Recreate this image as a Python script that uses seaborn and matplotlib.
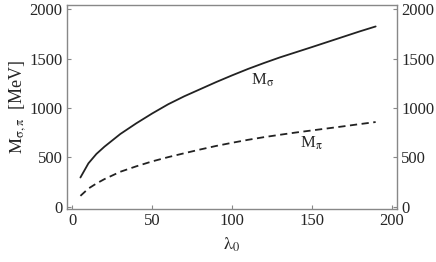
import pandas as pd
import seaborn as sns
import matplotlib.pyplot as plt

# values
lam = [5, 10, 15, 20, 30, 40, 50, 60, 70, 80, 90, 100, 110, 120, 130,
       140, 150, 160, 170, 180, 190]
m_sigma = [297, 440, 535, 608, 737, 845, 945, 1038, 1118, 1190, 1262, 1330,
           1395, 1455, 1512, 1564, 1616, 1669, 1722, 1775, 1825]
m_pi = [111, 185, 236, 280, 355, 410, 460, 503, 542, 580, 616, 648,
        678, 705, 729, 752, 773, 794, 815, 837, 858]

df = pd.DataFrame({"lam": lam, "sigma": m_sigma, "pi": m_pi})

sns.set_style("white")
plt.rcParams["font.family"] = ["Liberation Serif", "DejaVu Serif"]
plt.rcParams["mathtext.fontset"] = "stix"

fig = plt.figure(figsize=(4.36, 2.62), dpi=100)
ax = fig.add_axes([0.153, 0.203, 0.758, 0.779])

sns.lineplot(data=df, x="lam", y="sigma", ax=ax, color="#222222", lw=1.3)
sns.lineplot(data=df, x="lam", y="pi", ax=ax, color="#222222", lw=1.3,
             linestyle=(0, (4, 2.5)))

ax.set_xlim(-3.6, 203.5)
ax.set_ylim(-20, 2045)
ax.set_xticks([0, 50, 100, 150, 200])
ax.set_yticks([0, 500, 1000, 1500, 2000])

for s in ax.spines.values():
    s.set_color("#888888")
    s.set_linewidth(1.0)

ax.tick_params(direction="in", length=3, color="#888888", labelsize=12,
               left=True, bottom=True, pad=3)

ax2 = ax.twinx()
ax2.set_ylim(ax.get_ylim())
ax2.set_yticks([0, 500, 1000, 1500, 2000])
ax2.tick_params(direction="in", length=3, color="#888888", labelsize=12, pad=3)
for s in ax2.spines.values():
    s.set_visible(False)

ax.set_xlabel(r"$\mathrm{\lambda_0}$", fontsize=13, labelpad=5)
ax.set_ylabel(r"$\mathrm{M_{\sigma,\pi}}$  [MeV]", fontsize=13, labelpad=1)

ax.text(119, 1280, r"M$_\mathrm{\sigma}$", fontsize=12, ha="center", va="center")
ax.text(150, 640, r"M$_\mathrm{\pi}$", fontsize=12, ha="center", va="center")

fig.savefig("out.png", dpi=100)
